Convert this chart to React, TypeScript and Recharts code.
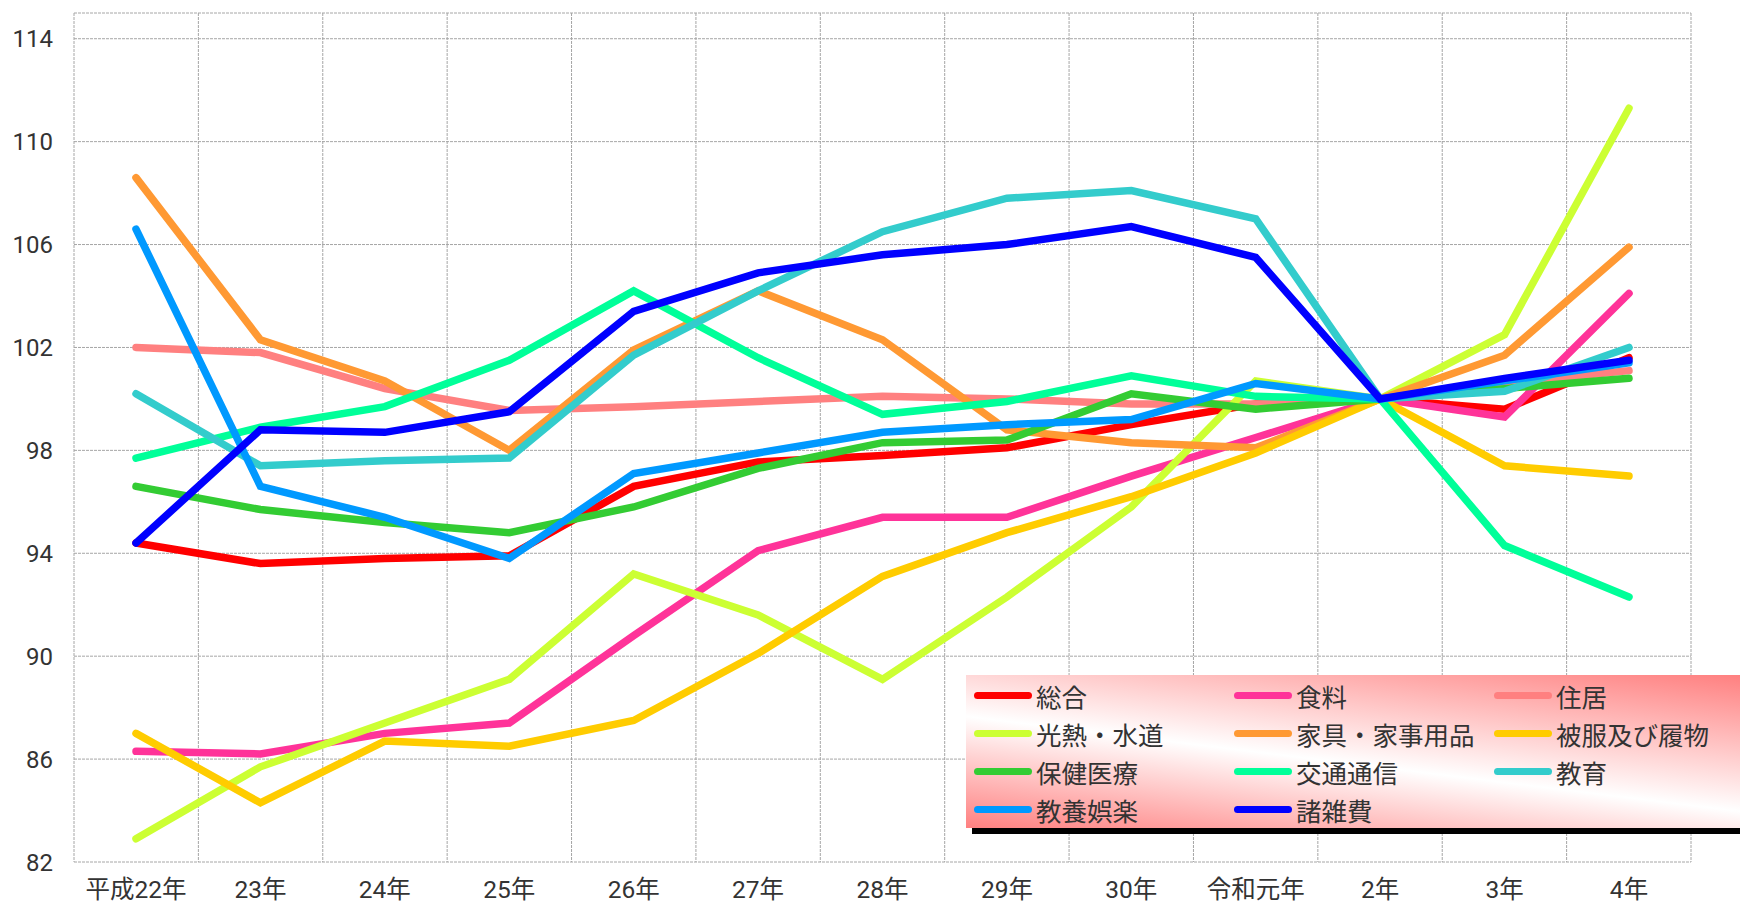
import { LineChart, Line, XAxis, YAxis, CartesianGrid } from "recharts";

const YEARS = ["平成22年", "23年", "24年", "25年", "26年", "27年", "28年", "29年", "30年", "令和元年", "2年", "3年", "4年"];
const Y_TICKS = [82, 86, 90, 94, 98, 102, 106, 110, 114];

const SOGO = [94.4, 93.6, 93.8, 93.9, 96.6, 97.55, 97.8, 98.1, 99.0, 99.8, 100, 99.6, 101.6];
const SHOKURYO = [86.3, 86.2, 87.0, 87.4, 90.8, 94.1, 95.4, 95.4, 97.0, 98.5, 100, 99.3, 104.1];
const JUKYO = [102.0, 101.8, 100.4, 99.55, 99.7, 99.9, 100.1, 100.0, 99.8, 99.8, 100, 100.6, 101.1];
const KONETSU = [82.9, 85.7, 87.4, 89.1, 93.2, 91.6, 89.1, 92.3, 95.8, 100.7, 100, 102.5, 111.3];
const KAGU = [108.6, 102.3, 100.7, 98.0, 101.9, 104.2, 102.3, 98.8, 98.3, 98.1, 100, 101.7, 105.9];
const HIFUKU = [87.0, 84.3, 86.7, 86.5, 87.5, 90.1, 93.1, 94.8, 96.2, 97.9, 100, 97.4, 97.0];
const HOKEN = [96.6, 95.7, 95.2, 94.8, 95.8, 97.3, 98.3, 98.4, 100.2, 99.6, 100, 100.4, 100.8];
const KOTSU = [97.7, 98.9, 99.7, 101.5, 104.2, 101.6, 99.4, 99.9, 100.9, 100.1, 100, 94.3, 92.3];
const KYOIKU = [100.2, 97.4, 97.6, 97.7, 101.7, 104.2, 106.5, 107.8, 108.1, 107.0, 100, 100.3, 102.0];
const GORAKU = [106.6, 96.6, 95.4, 93.8, 97.1, 97.9, 98.7, 99.0, 99.2, 100.6, 100, 100.7, 101.4];
const SHOZAPPI = [94.4, 98.8, 98.7, 99.5, 103.4, 104.9, 105.6, 106.0, 106.7, 105.5, 100, 100.8, 101.5];

const SERIES = [
  { name: "総合", color: "#ff0000", values: SOGO },
  { name: "食料", color: "#ff3399", values: SHOKURYO },
  { name: "住居", color: "#ff8080", values: JUKYO },
  { name: "光熱・水道", color: "#ccff33", values: KONETSU },
  { name: "家具・家事用品", color: "#ff9933", values: KAGU },
  { name: "被服及び履物", color: "#ffcc00", values: HIFUKU },
  { name: "保健医療", color: "#33cc33", values: HOKEN },
  { name: "交通通信", color: "#00ff99", values: KOTSU },
  { name: "教育", color: "#33cccc", values: KYOIKU },
  { name: "教養娯楽", color: "#0099ff", values: GORAKU },
  { name: "諸雑費", color: "#0000ff", values: SHOZAPPI },
];

const data = YEARS.map((year, i) => {
  const row: Record<string, string | number> = { year };
  SERIES.forEach((s) => {
    row[s.name] = s.values[i];
  });
  return row;
});

const FONT = "Roboto, 'Noto Sans CJK JP', sans-serif";
const yTickStyle = { fontSize: 24, fill: "#333", fontFamily: FONT };
const xTickStyle = { fontSize: 24.5, fill: "#333", fontFamily: FONT };

function ChartLegend() {
  return (
    <div
      style={{
        position: "absolute",
        left: 966,
        top: 675,
        width: 774,
        height: 153,
        boxSizing: "border-box",
        padding: "1px 0 0 8px",
        background: "linear-gradient(7deg, #ff8080 0%, #ffffff 45%, #ff8080 100%)",
        boxShadow: "6px 6px 0 #000",
        display: "grid",
        gridTemplateColumns: "260px 260px 246px",
        gridAutoRows: "38px",
        fontFamily: FONT,
        fontSize: 25.5,
        color: "#333",
      }}
    >
      {SERIES.map((s) => (
        <div key={s.name} style={{ display: "flex", alignItems: "center", whiteSpace: "nowrap" }}>
          <div style={{ width: 58, height: 7, borderRadius: 4, background: s.color, marginRight: 4 }} />
          <span>{s.name}</span>
        </div>
      ))}
    </div>
  );
}

export default function App() {
  return (
    <div
      style={{
        position: "absolute",
        left: 0,
        top: 0,
        width: 1740,
        height: 903,
        overflow: "hidden",
        background: "#fff",
      }}
    >
      <LineChart width={1740} height={903} data={data} margin={{ top: 13, right: 49, bottom: 0, left: 0 }}>
        <CartesianGrid
          stroke="#a6a6a6"
          strokeDasharray="3 1"
          verticalCoordinatesGenerator={({ offset }: any) =>
            YEARS.concat("").map((_, i) => offset.left + (i * offset.width) / YEARS.length)
          }
        />
        <XAxis
          dataKey="year"
          height={41}
          padding={{ left: 62, right: 62 }}
          axisLine={false}
          tickLine={false}
          tickSize={0}
          tickMargin={19}
          interval={0}
          tick={xTickStyle}
        />
        <YAxis
          width={74}
          domain={[82, 115]}
          ticks={Y_TICKS}
          axisLine={false}
          tickLine={false}
          tickSize={0}
          tickMargin={21}
          tick={yTickStyle}
        />
        {SERIES.map((s) => (
          <Line
            key={s.name}
            type="linear"
            dataKey={s.name}
            stroke={s.color}
            strokeWidth={7.5}
            strokeLinecap="round"
            dot={false}
            activeDot={false}
            isAnimationActive={false}
          />
        ))}
      </LineChart>
      <ChartLegend />
    </div>
  );
}
